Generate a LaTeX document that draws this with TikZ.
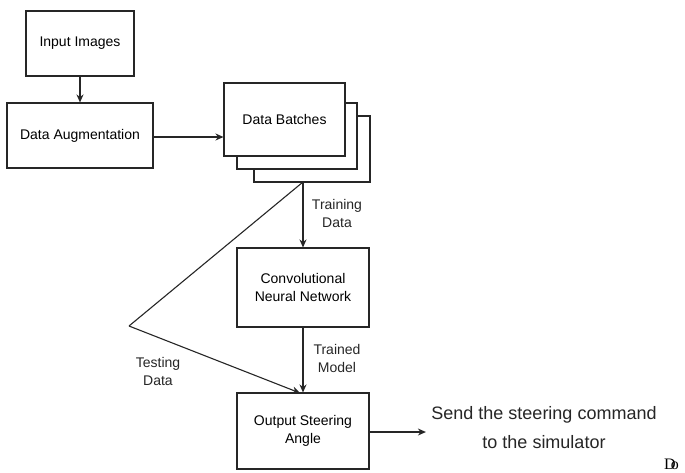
\documentclass[tikz,border=0pt]{standalone}
\usepackage{fontspec}
\setmainfont{Liberation Sans}
\newfontfamily\serifx{Liberation Serif}
\usetikzlibrary{arrows.meta}
\begin{document}
\begin{tikzpicture}[x=1pt,y=-1pt,
  box/.style={draw=black!85,line width=1.1pt,fill=white,inner sep=0pt,align=center,font=\fontsize{14}{18}\selectfont},
  lab/.style={align=center,font=\fontsize{14}{18}\selectfont,text=black!85},
  conn/.style={draw=black!85,line width=1.1pt},
  arr/.style={conn,-{Stealth[length=8pt,width=7pt]}}]
\useasboundingbox[fill=white] (0,0) rectangle (685,472);
\node[box,minimum width=108pt,minimum height=65pt] (inp) at (80,43.5) {Input Images};
\node[box,minimum width=146pt,minimum height=65pt] (aug) at (80,135.5) {Data Augmentation};
\node[box,minimum width=116pt,minimum height=66pt] (db3) at (312,149) {};
\node[box,minimum width=120pt,minimum height=66pt] (db2) at (297,136) {};
\node[box,minimum width=121pt,minimum height=73pt] (db) at (284.5,119.5) {Data Batches};
\node[box,minimum width=132pt,minimum height=79pt] (cnn) at (303,287.5) {Convolutional\\Neural Network};
\node[box,minimum width=132pt,minimum height=76pt] (out) at (303,431) {Output Steering\\Angle};
\node[lab,font=\fontsize{18}{29}\selectfont] (send) at (544,427.5) {Send the steering command\\to the simulator};
\node[lab] (trd) at (337,213) {Training\\Data};
\node[lab] (trm) at (337,358) {Trained\\Model};
\node[lab] (tsd) at (158,371) {Testing\\Data};
\node[font=\serifx\fontsize{16}{16}\selectfont,inner sep=0pt,anchor=base west] (dd) at (664,469) {D\kern-5pt o};
\coordinate (split) at (303,182);
\coordinate (bend) at (129,326);
\coordinate (tin) at (300,393);
\draw[arr] (inp) -- (aug);
\draw[arr] (aug.east |- 0,137) -- (db.west |- 0,137);
\draw[arr] (split) -- (cnn.north);
\draw[arr] (cnn) -- (out);
\draw[conn] (split) -- (bend);
\draw[arr] (bend) -- (tin);
\draw[arr] (out.east |- 0,432) -- ([xshift=-2pt]send.west |- 0,432);
\end{tikzpicture}
\end{document}
